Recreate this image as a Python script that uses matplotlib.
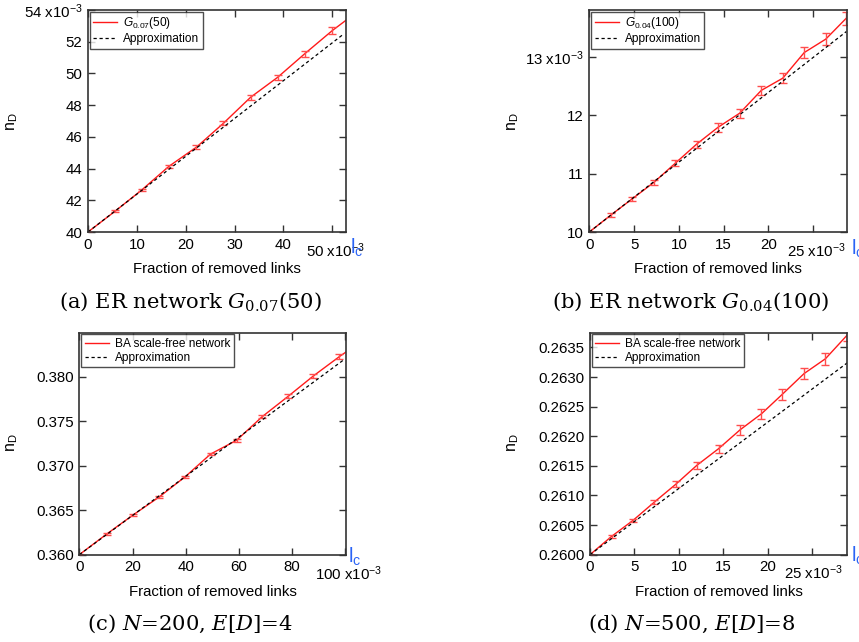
import matplotlib
matplotlib.use('Agg')
import matplotlib.pyplot as plt

plt.rcParams['font.family'] = ['Liberation Sans', 'DejaVu Sans']
plt.rcParams['mathtext.fontset'] = 'custom'
plt.rcParams['mathtext.rm'] = 'Liberation Sans'
plt.rcParams['mathtext.it'] = 'Liberation Sans:italic'
plt.rcParams['mathtext.bf'] = 'Liberation Sans:bold'

# ======== data (x in units of 1e-3) ========
# (a) ER network G0.07(50)
xa = [0, 5.5, 11.0, 16.6, 22.2, 27.7, 33.3, 38.8, 44.4, 50.0, 52.8]
ya = [40.0, 41.3, 42.65, 44.15, 45.35, 46.85, 48.5, 49.75, 51.25, 52.7, 53.35]
ea = [0.03, 0.06, 0.08, 0.1, 0.11, 0.13, 0.15, 0.17, 0.19, 0.22]
xa_apx = [0, 52.1]
ya_apx = [40.0, 52.43]

# (b) ER network G0.04(100)
xb = [0, 2.4, 4.8, 7.2, 9.6, 12.0, 14.4, 16.8, 19.2, 21.6, 24.0, 26.4, 28.7]
yb = [10.0, 10.29, 10.57, 10.85, 11.18, 11.51, 11.80, 12.04, 12.43, 12.64, 13.08, 13.31, 13.67]
eb = [0.01, 0.03, 0.035, 0.04, 0.05, 0.06, 0.075, 0.075, 0.08, 0.09, 0.1, 0.1, 0.11]
xb_apx = [0, 28.7]
yb_apx = [10.0, 13.44]

# (c) BA network N=200, E[D]=4
xc = [0, 10.3, 20.2, 30.0, 39.8, 49.3, 59.1, 68.7, 78.5, 87.9, 97.7, 100.2]
yc = [0.3600, 0.36232, 0.36446, 0.36648, 0.36876, 0.3713, 0.37285, 0.3755,
      0.3778, 0.38007, 0.38225, 0.38277]
ec = [0.00003, 0.00007, 0.00008, 0.0001, 0.00012, 0.00015, 0.00016, 0.00019,
      0.00021, 0.00024, 0.0003]
xc_apx = [0, 99.4]
yc_apx = [0.3600, 0.3819]

# (d) BA network N=500, E[D]=8
xd = [0, 2.44, 4.85, 7.26, 9.66, 12.03, 14.47, 16.9, 19.3, 21.65, 24.1, 26.5, 28.95]
yd = [0.26000, 0.26031, 0.26058, 0.26089, 0.26119, 0.26151, 0.26179, 0.26211,
      0.26238, 0.26271, 0.26306, 0.26331, 0.26371]
ed = [0.00001, 0.000025, 0.00003, 0.00004, 0.00005, 0.00006, 0.00007, 0.00008,
      0.00008, 0.00009, 0.0001, 0.0001, 0.0001]
xd_apx = [0, 28.95]
yd_apx = [0.2600, 0.26324]

panels = [
    dict(rect=[0.1024, 0.6386, 0.3003, 0.3458], x=xa, y=ya, e=ea, ax_=xa_apx, ay_=ya_apx,
         xlim=(0, 52.8), ylim=(40, 54),
         xt=[0, 10, 20, 30, 40, 50], xtl=['0', '10', '20', '30', '40', ''],
         yt=[40, 42, 44, 46, 48, 50, 52, 54],
         ytl=['40', '42', '44', '46', '48', '50', '52', r'54 x10$^{-3}$'],
         lab=r'$G_{0.07}$(50)'),
    dict(rect=[0.686, 0.6386, 0.3003, 0.3458], x=xb, y=yb, e=eb, ax_=xb_apx, ay_=yb_apx,
         xlim=(0, 28.8), ylim=(10, 13.81),
         xt=[0, 5, 10, 15, 20, 25], xtl=['0', '5', '10', '15', '20', ''],
         yt=[10, 11, 12, 13], ytl=['10', '11', '12', r'13 x10$^{-3}$'],
         lab=r'$G_{0.04}$(100)'),
    dict(rect=[0.0923, 0.136, 0.3105, 0.3458], x=xc, y=yc, e=ec, ax_=xc_apx, ay_=yc_apx,
         xlim=(0, 100.2), ylim=(0.360, 0.38494),
         xt=[0, 20, 40, 60, 80, 100], xtl=['0', '20', '40', '60', '80', ''],
         yt=[0.360, 0.365, 0.370, 0.375, 0.380],
         ytl=['0.360', '0.365', '0.370', '0.375', '0.380'],
         lab='BA scale-free network'),
    dict(rect=[0.6868, 0.136, 0.2995, 0.3458], x=xd, y=yd, e=ed, ax_=xd_apx, ay_=yd_apx,
         xlim=(0, 28.95), ylim=(0.2600, 0.26375),
         xt=[0, 5, 10, 15, 20, 25], xtl=['0', '5', '10', '15', '20', ''],
         yt=[0.2600, 0.2605, 0.2610, 0.2615, 0.2620, 0.2625, 0.2630, 0.2635],
         ytl=['0.2600', '0.2605', '0.2610', '0.2615', '0.2620', '0.2625', '0.2630', '0.2635'],
         lab='BA scale-free network'),
]

fig = plt.figure(figsize=(8.59, 6.42), dpi=100)
spine_col = '#333333'

for p in panels:
    ax = fig.add_axes(p['rect'])
    ax.plot(p['x'], p['y'], color='#ff1a1a', lw=1.0, label=p['lab'])
    n = len(p['e'])
    ax.errorbar(p['x'][:n], p['y'][:n], yerr=p['e'], fmt='none', ecolor='#ff4d4d',
                elinewidth=1.0, capsize=3, capthick=1.0)
    ax.plot(p['ax_'], p['ay_'], color='black', lw=0.9, dashes=(2.6, 2.2),
            label='Approximation')
    ax.set_xlim(*p['xlim'])
    ax.set_ylim(*p['ylim'])
    ax.set_xticks(p['xt'])
    ax.set_xticklabels(p['xtl'])
    ax.set_yticks(p['yt'])
    ax.set_yticklabels(p['ytl'])
    ax.tick_params(direction='in', length=5, width=1, colors=spine_col, labelcolor='black',
                   labelsize=10.8, top=True, right=True, pad=4)
    for s in ax.spines.values():
        s.set_color(spine_col)
        s.set_linewidth(1.2)
    leg = ax.legend(loc='upper left', fontsize=8.6, frameon=True, fancybox=False,
                    edgecolor='#222222', borderaxespad=0.15, borderpad=0.3,
                    labelspacing=0.15, handlelength=2.0, handletextpad=0.5)
    leg.get_frame().set_linewidth(1.0)

# axis labels
for x, y in [(0.5 * (0.1024 + 0.4027), 0.581), (0.5 * (0.686 + 0.9863), 0.581),
             (0.5 * (0.0923 + 0.4028), 0.078), (0.5 * (0.6868 + 0.9863), 0.078)]:
    fig.text(x, y, 'Fraction of removed links', ha='center', va='center', fontsize=10.8)
for x, y in [(0.014, 0.811), (0.597, 0.811), (0.014, 0.31), (0.597, 0.31)]:
    fig.text(x, y, r'n$_\mathregular{D}$', rotation=90, ha='center', va='center', fontsize=11.5)

# last x tick labels with the multiplier
for x, y, s in [(306, 251, '50'), (786.7, 251, '25'), (315, 574, '100'), (784, 573, '25')]:
    fig.text(x / 859, 1 - y / 642, s + r' x10$^{-3}$', ha='left', va='center', fontsize=10.8)

# l_c markers
for x, y in [(349.5, 253.5), (851, 255), (348.5, 563), (851, 561.7)]:
    fig.text(x / 859, 1 - y / 642, r'l$_\mathregular{c}$', ha='left', va='baseline',
             fontsize=14.5, color='#2a63f5')

# captions
caps = [(190, 302, r'(a) ER network $G_{0.07}$(50)'),
        (691, 302, r'(b) ER network $G_{0.04}$(100)'),
        (190, 624, r'(c) $N$=200, $E[D]$=4'),
        (692, 624, r'(d) $N$=500, $E[D]$=8')]
for x, y, s in caps:
    fig.text(x / 859, 1 - y / 642, s, ha='center', va='center', fontsize=15.2,
             family='DejaVu Serif', math_fontfamily='dejavuserif')

fig.savefig('out.png', dpi=100)
